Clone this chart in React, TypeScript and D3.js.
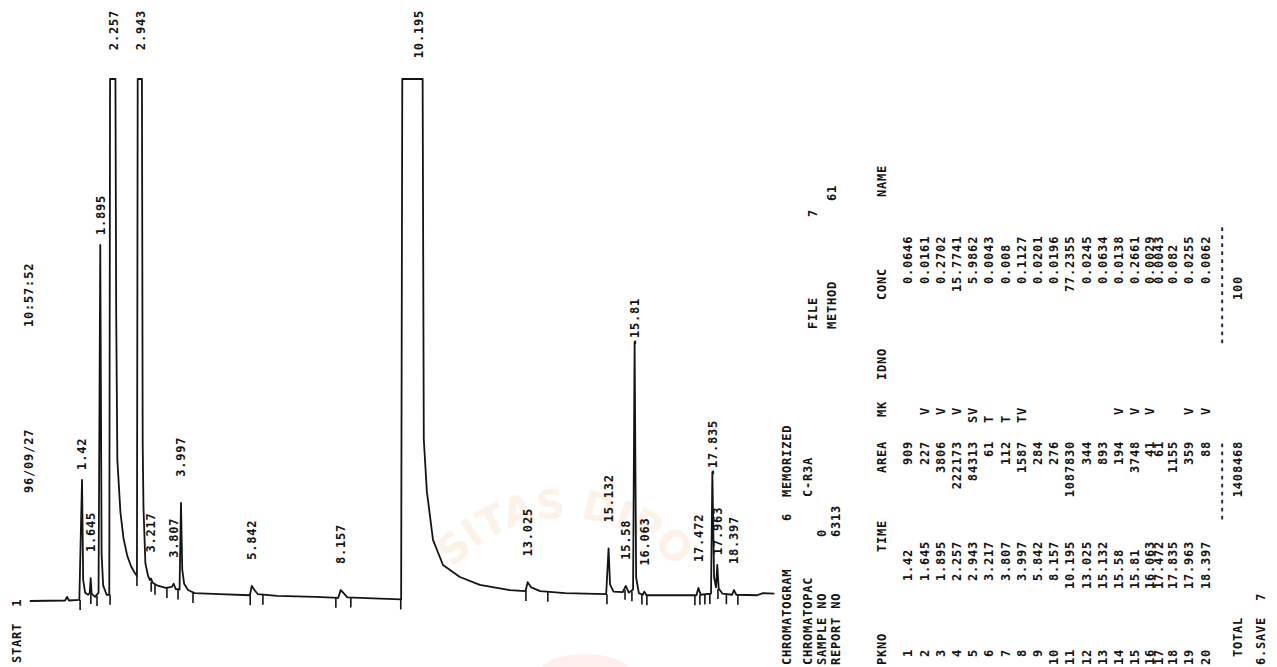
import React from 'react'
import * as d3 from 'd3'

// peak table, one entry per peak
const peakTimes = [1.42, 1.645, 1.895, 2.257, 2.943, 3.217, 3.807, 3.997, 5.842, 8.157, 10.195, 13.025, 15.132, 15.58, 15.81, 16.063, 17.472, 17.835, 17.963, 18.397]
const peakLabels = ['1.42', '1.645', '1.895', '2.257', '2.943', '3.217', '3.807', '3.997', '5.842', '8.157', '10.195', '13.025', '15.132', '15.58', '15.81', '16.063', '17.472', '17.835', '17.963', '18.397']
// how the printer put the label next to the peak
const labelKinds = ['near', 'gap', 'near', 'clip', 'clip', 'gap', 'gap', 'gap', 'gap', 'gap', 'clip', 'gap', 'gap', 'gap', 'dash', 'gap', 'gap', 'dash', 'near', 'gap']
const areas = [909, 227, 3806, 222173, 84313, 61, 112, 1587, 284, 276, 1087830, 344, 893, 194, 3748, 41, 61, 1155, 359, 88]
const marks = ['', ' V', ' V', ' V', 'SV', 'T', 'T', 'TV', '', '', '', '', '', ' V', ' V', ' V', '', '', ' V', ' V']
const concs = ['0.0646', '0.0161', '0.2702', '15.7741', '5.9862', '0.0043', '0.008', '0.1127', '0.0201', '0.0196', '77.2355', '0.0245', '0.0634', '0.0138', '0.2661', '0.0029', '0.0043', '0.082', '0.0255', '0.0062']
const totalArea = 1408468
const totalConc = '100'

// pen trace: [time min, % of full scale]
const trace: [number, number][] = [
  [0.06, 0], [0.98, 0.1], [1.03, 0.8], [1.08, 0.1], [1.35, 0.2],
  [1.42, 23.2], [1.45, 4.0], [1.5, 1.6], [1.58, 1.2], [1.62, 1.5],
  [1.645, 4.4], [1.67, 1.4], [1.76, 0.8], [1.85, 1.6],
  [1.895, 68.2], [1.93, 9.0], [1.97, 3.0], [2.06, 1.2], [2.13, 1.2],
  [2.15, 100], [2.29, 100], [2.31, 55], [2.34, 27], [2.42, 17], [2.5, 12], [2.6, 8.6], [2.7, 6.6], [2.8, 5.3], [2.85, 4.8],
  [2.87, 100], [2.98, 100], [3.0, 30], [3.02, 18], [3.07, 7.2], [3.14, 4.8], [3.19, 4.0], [3.217, 4.3], [3.26, 3.5], [3.37, 3.0], [3.6, 2.5], [3.76, 2.7], [3.807, 3.3], [3.86, 2.3], [3.96, 2.2],
  [3.997, 18.8], [4.03, 6.0], [4.08, 3.3], [4.18, 2.1], [4.35, 1.5], [5.0, 1.3], [5.79, 1.1],
  [5.842, 2.9], [5.9, 2.2], [6.0, 1.3], [6.5, 1.0], [7.5, 0.8], [8.09, 0.6],
  [8.157, 2.1], [8.22, 1.6], [8.33, 0.7], [9.0, 0.5], [9.73, 0.3],
  [9.76, 100], [10.29, 100], [10.32, 31], [10.4, 21], [10.56, 11.7], [10.82, 6.9], [11.26, 4.6], [11.78, 3.1], [12.56, 2.1], [12.97, 1.9],
  [13.025, 3.6], [13.12, 2.6], [13.35, 1.9], [14.0, 1.5], [15.07, 1.3],
  [15.132, 10.1], [15.17, 3.2], [15.26, 1.8], [15.5, 1.7], [15.58, 2.9], [15.66, 1.6], [15.77, 2.2],
  [15.81, 49.6], [15.85, 4.5], [15.92, 1.5], [16.02, 1.2], [16.063, 1.8], [16.12, 1.1], [17.0, 1.1], [17.42, 1.1],
  [17.472, 2.5], [17.53, 1.2], [17.8, 1.4], [17.835, 24.7], [17.88, 4.5], [17.93, 2.6], [17.963, 6.9], [18.0, 2.4], [18.1, 1.4], [18.35, 1.2], [18.397, 2.1], [18.46, 1.2], [19.0, 1.1], [19.15, 1.5], [19.45, 1.4],
]

// integration marks printed under the trace (min)
const tickTimes = [1.37, 1.65, 1.81, 2.15, 2.85, 3.22, 3.32, 3.63, 3.92, 4.31, 5.8, 6.13, 8.03, 8.42, 9.72, 12.98, 13.55, 15.09, 15.56, 15.74, 16.0, 16.13, 17.38, 17.51, 17.64, 17.77, 17.98, 18.2, 18.5]

const W = 1277
const H = 667
const INK = '#141414'
const FONT = '"DejaVu Sans Mono", "Liberation Mono", monospace'

// printer grid: everything starts at the bottom edge and runs upward
const Y0 = 665
const PITCH = 8

function VText({ x, y, anchor = 'start', children }: { x: number; y: number; anchor?: string; children: React.ReactNode }) {
  return (
    <text transform={`translate(${x},${y}) rotate(-90)`} textAnchor={anchor} dy="0.36em" style={{ whiteSpace: 'pre' }}>
      {children}
    </text>
  )
}

export default function App() {
  const x = d3.scaleLinear().domain([0, 20]).range([27.5, 795.5])
  const y = d3.scaleLinear().domain([0, 100]).range([601, 79])
  const level = d3.scaleLinear().domain(trace.map(d => d[0])).range(trace.map(d => d[1])).clamp(true)
  const line = d3.line<[number, number]>().x(d => x(d[0])).y(d => y(d[1]))

  const col = (c: number) => Y0 - c * PITCH

  // table rows, rows 16 and 17 were overprinted by the paper feed
  const rowScale = d3.scaleLinear().domain([0, 1]).range([908, 924.2])
  const rowX = peakTimes.map((_, i) => rowScale(i) - (i >= 15 ? 1.2 : 0) - (i >= 16 ? 7.2 : 0) - (i >= 17 ? 2.2 : 0))
  const lastRow = rowX[rowX.length - 1]
  const dashX = lastRow + 16
  const totalX = dashX + 16
  const saveX = totalX + 23

  const padInt = (s: string, n: number) => {
    const [a, b] = s.split('.')
    return a.padStart(n, ' ') + (b !== undefined ? '.' + b : '')
  }

  return (
    <svg width={W} height={H} style={{ position: 'absolute', left: 0, top: 0, background: '#fff' }}>
      <rect width={W} height={H} fill="#fff" />

      {/* faint library watermark */}
      <g>
        <path id="wm-arc" d="M 415 668 A 150 150 0 0 1 715 668" fill="none" />
        <text fontFamily="DejaVu Sans" fontWeight="bold" fontSize={40} fill="#fdf2e8">
          <textPath href="#wm-arc" startOffset="50%" textAnchor="middle">SITAS DIPO</textPath>
        </text>
        <ellipse cx={585} cy={674} rx={46} ry={20} fill="#fdefec" />
      </g>

      {/* chromatogram trace */}
      <path d={line(trace) ?? ''} fill="none" stroke={INK} strokeWidth={1.8} strokeLinejoin="round" />
      <g stroke={INK} strokeWidth={1.6}>
        {tickTimes.map((t, i) => {
          const lv = Math.min(level(t - 0.03), level(t + 0.03), level(t))
          return <line key={i} x1={x(t)} x2={x(t)} y1={y(lv)} y2={y(lv) + 10} />
        })}
      </g>

      <g fontFamily={FONT} fontWeight="bold" fontSize={12} letterSpacing={0.8} fill={INK}>
        {/* run header */}
        <VText x={17} y={663}>START  1</VText>
        <VText x={29} y={col(21.5)}>96/09/27</VText>
        <VText x={29} y={col(42.25)}>10:57:52</VText>

        {/* retention time labels */}
        {peakTimes.map((t, i) => {
          const px = x(t)
          const apex = y(level(t))
          const kind = labelKinds[i]
          if (kind === 'clip') return <VText key={i} x={px} y={10} anchor="end">{peakLabels[i]}</VText>
          if (kind === 'dash') return <VText key={i} x={px} y={apex + 4}>{'-' + peakLabels[i]}</VText>
          const gap = kind === 'near' ? 10 : 26
          return <VText key={i} x={px} y={apex - gap}>{peakLabels[i]}</VText>
        })}

        {/* report header */}
        <VText x={787} y={col(0)}>CHROMATOGRAM</VText>
        <VText x={787} y={col(18)}>6</VText>
        <VText x={787} y={col(21)}>MEMORIZED</VText>
        <VText x={808} y={col(0)}>CHROMATOPAC</VText>
        <VText x={808} y={col(21)}>C-R3A</VText>
        <VText x={813} y={col(42)}>FILE</VText>
        <VText x={813} y={col(56)}>7</VText>
        <VText x={822} y={col(0)}>SAMPLE NO</VText>
        <VText x={822} y={col(16)}>0</VText>
        <VText x={836} y={col(0)}>REPORT NO</VText>
        <VText x={836} y={col(16)}>6313</VText>
        <VText x={832} y={col(42)}>METHOD</VText>
        <VText x={832} y={col(58)}>61</VText>

        {/* column heads */}
        <VText x={882} y={col(0)}>PKNO</VText>
        <VText x={882} y={552}>TIME</VText>
        <VText x={882} y={441} anchor="end">AREA</VText>
        <VText x={882} y={417}>MK</VText>
        <VText x={882} y={380}>IDNO</VText>
        <VText x={882} y={300}>CONC</VText>
        <VText x={882} y={197}>NAME</VText>

        {/* rows */}
        {peakTimes.map((_, i) => (
          <g key={i}>
            <VText x={rowX[i]} y={649} anchor="end">{String(i + 1)}</VText>
            <VText x={rowX[i]} y={589}>{padInt(peakLabels[i], 2)}</VText>
            <VText x={rowX[i]} y={441} anchor="end">{String(areas[i])}</VText>
            {marks[i] && <VText x={rowX[i]} y={423}>{marks[i]}</VText>}
            <VText x={rowX[i]} y={292}>{padInt(concs[i], 2)}</VText>
          </g>
        ))}

        <VText x={dashX} y={441} anchor="end">{'-'.repeat(10)}</VText>
        <VText x={dashX} y={345}>{'-'.repeat(15)}</VText>
        <VText x={totalX} y={657}>TOTAL</VText>
        <VText x={totalX} y={441} anchor="end">{String(totalArea)}</VText>
        <VText x={totalX} y={276} anchor="end">{totalConc}</VText>
        <VText x={saveX} y={665}>6.SAVE  7</VText>
      </g>
    </svg>
  )
}
